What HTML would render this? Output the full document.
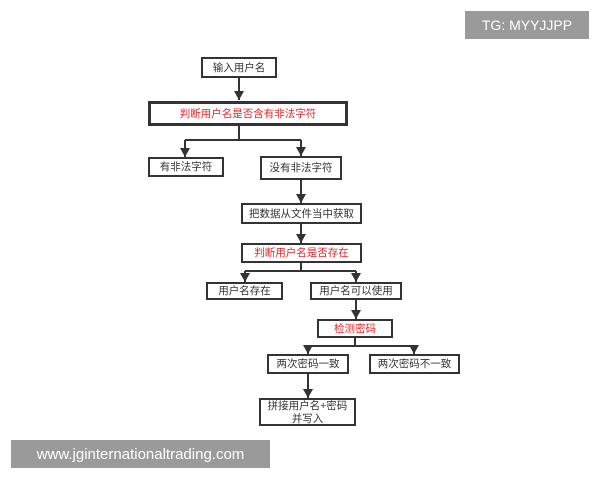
<!DOCTYPE html>
<html><head><meta charset="utf-8"><style>
body{margin:0;width:600px;height:480px;background:#fff;overflow:hidden;position:relative;font-family:"Liberation Sans","Noto Sans CJK SC",sans-serif}
.b{position:absolute;border:2px solid #333;background:#fff;box-sizing:border-box;display:flex;align-items:center;justify-content:center;font-size:10.5px;color:#333;text-align:center;line-height:13px;padding-top:1px}
.r{color:#e0282e}
.wm{position:absolute;background:#9a9a9a;color:#fff;font-size:14px;display:flex;align-items:center;justify-content:center}
svg{position:absolute;left:0;top:0}
</style></head><body>
<svg width="600" height="480">
<defs><marker id="a" markerWidth="10" markerHeight="10" refX="9" refY="5" orient="auto" markerUnits="userSpaceOnUse"><path d="M0,0 L9,5 L0,10z" fill="#333"/></marker></defs>
<g stroke="#333" stroke-width="2" fill="none">
<line x1="239" y1="78" x2="239" y2="100" marker-end="url(#a)"/>
<polyline points="239,126 239,140"/><line x1="185" y1="140" x2="301" y2="140"/>
<line x1="185" y1="140" x2="185" y2="157" marker-end="url(#a)"/>
<line x1="301" y1="140" x2="301" y2="156" marker-end="url(#a)"/>
<line x1="301" y1="180" x2="301" y2="203" marker-end="url(#a)"/>
<line x1="301" y1="224" x2="301" y2="243" marker-end="url(#a)"/>
<line x1="301" y1="263" x2="301" y2="271"/><line x1="245" y1="271" x2="356" y2="271"/>
<line x1="245" y1="271" x2="245" y2="282" marker-end="url(#a)"/>
<line x1="356" y1="271" x2="356" y2="282" marker-end="url(#a)"/>
<line x1="356" y1="300" x2="356" y2="319" marker-end="url(#a)"/>
<line x1="355" y1="338" x2="355" y2="346"/><line x1="308" y1="346" x2="414" y2="346"/>
<line x1="308" y1="346" x2="308" y2="354" marker-end="url(#a)"/>
<line x1="414" y1="346" x2="414" y2="354" marker-end="url(#a)"/>
<line x1="308" y1="374" x2="308" y2="398" marker-end="url(#a)"/>
</g></svg>
<div class="b" style="left:201px;top:57px;width:76px;height:21px">输入用户名</div>
<div class="b r" style="left:148px;top:101px;width:200px;height:25px;border-width:3px">判断用户名是否含有非法字符</div>
<div class="b" style="left:148px;top:157px;width:76px;height:20px">有非法字符</div>
<div class="b" style="left:260px;top:156px;width:82px;height:24px">没有非法字符</div>
<div class="b" style="left:241px;top:203px;width:121px;height:21px">把数据从文件当中获取</div>
<div class="b r" style="left:241px;top:243px;width:121px;height:20px">判断用户名是否存在</div>
<div class="b" style="left:206px;top:282px;width:77px;height:18px">用户名存在</div>
<div class="b" style="left:310px;top:282px;width:92px;height:18px">用户名可以使用</div>
<div class="b r" style="left:317px;top:319px;width:76px;height:19px">检测密码</div>
<div class="b" style="left:267px;top:354px;width:82px;height:20px">两次密码一致</div>
<div class="b" style="left:369px;top:354px;width:91px;height:20px">两次密码不一致</div>
<div class="b" style="left:259px;top:398px;width:97px;height:28px">拼接用户名+密码<br>并写入</div>
<div class="wm" style="left:465px;top:11px;width:124px;height:28px">TG: MYYJJPP</div>
<div class="wm" style="left:11px;top:440px;width:259px;height:28px;font-size:15px">www.jginternationaltrading.com</div>
</body></html>
